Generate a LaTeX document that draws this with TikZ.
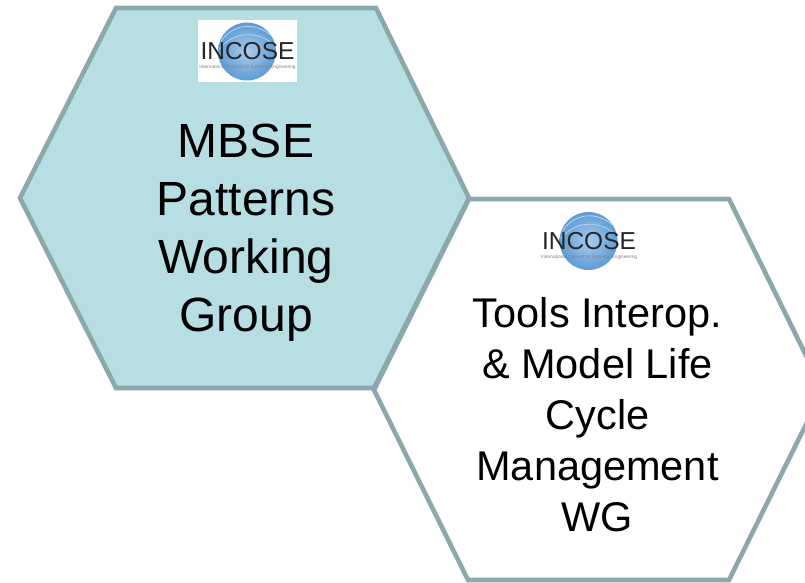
\documentclass[tikz,border=0pt]{standalone}
\usepackage{fontspec}
\setmainfont{Liberation Sans}
\newfontfamily\logofont{Liberation Sans}
\begin{document}
\begin{tikzpicture}[x=1pt,y=-1pt,
  hexline/.style={draw=hexedge,line width=4.6pt,line join=miter},
  bigtext/.style={align=center,text=black,inner sep=0pt,font=\fontsize{48}{58}\selectfont},
  midtext/.style={align=center,text=black,inner sep=0pt,font=\fontsize{41.5}{51}\selectfont},
  logoword/.style={inner sep=0pt,text=black!85,font=\logofont\fontsize{24.5}{24.5}\selectfont},
  logotiny/.style={inner sep=0pt,text=black!50,font=\logofont\fontsize{4.75}{4.75}\selectfont},
  pics/incose/.style={code={
    \shade[inner color=globelight,outer color=globeblue] (0,0) circle[radius=29];
    \draw[white,opacity=.55,line width=.8pt] (-26,-10) .. controls (-14,-28) and (8,-30) .. (24,-16);
    \draw[white,opacity=.45,line width=.8pt] (-28,-2) .. controls (-14,-20) and (10,-22) .. (28,-6);
    \node[logoword,anchor=base] (#1word) at (0.5,8.5) {INCOSE};
    \node[logotiny,anchor=base] (#1tiny) at (0.5,17) {International Council on Systems Engineering};
  }}]
\definecolor{hexedge}{HTML}{8BA9AD}
\definecolor{hexfill}{HTML}{B7DEE2}
\definecolor{globeblue}{HTML}{5E9BD6}
\definecolor{globelight}{HTML}{A9CCEC}
\useasboundingbox (0,0) rectangle (805,583);
\clip (0,0) rectangle (805,583);
\fill[white] (0,0) rectangle (805,583);
% Right hexagon
\draw[hexline,fill=white] (469,199) -- (729,199) -- (823,390) -- (729,580) -- (468,580) -- (374,390) -- cycle;
% Left hexagon
\draw[hexline,fill=hexfill] (116,8) -- (376,8) -- (469,198) -- (374,388) -- (116,388) -- (20,198) -- cycle;
% Logos
\fill[white] (198,20) rectangle (297,82);
\pic at (247,51.5) {incose=a};
\pic at (588.5,241) {incose=b};
% Labels
\node[bigtext] (mbse) at (246,232.5) {MBSE\\Patterns\\Working\\Group};
\node[midtext] (tools) at (597.5,415) {Tools Interop.\\\& Model Life\\Cycle\\Management\\WG};
\end{tikzpicture}
\end{document}
